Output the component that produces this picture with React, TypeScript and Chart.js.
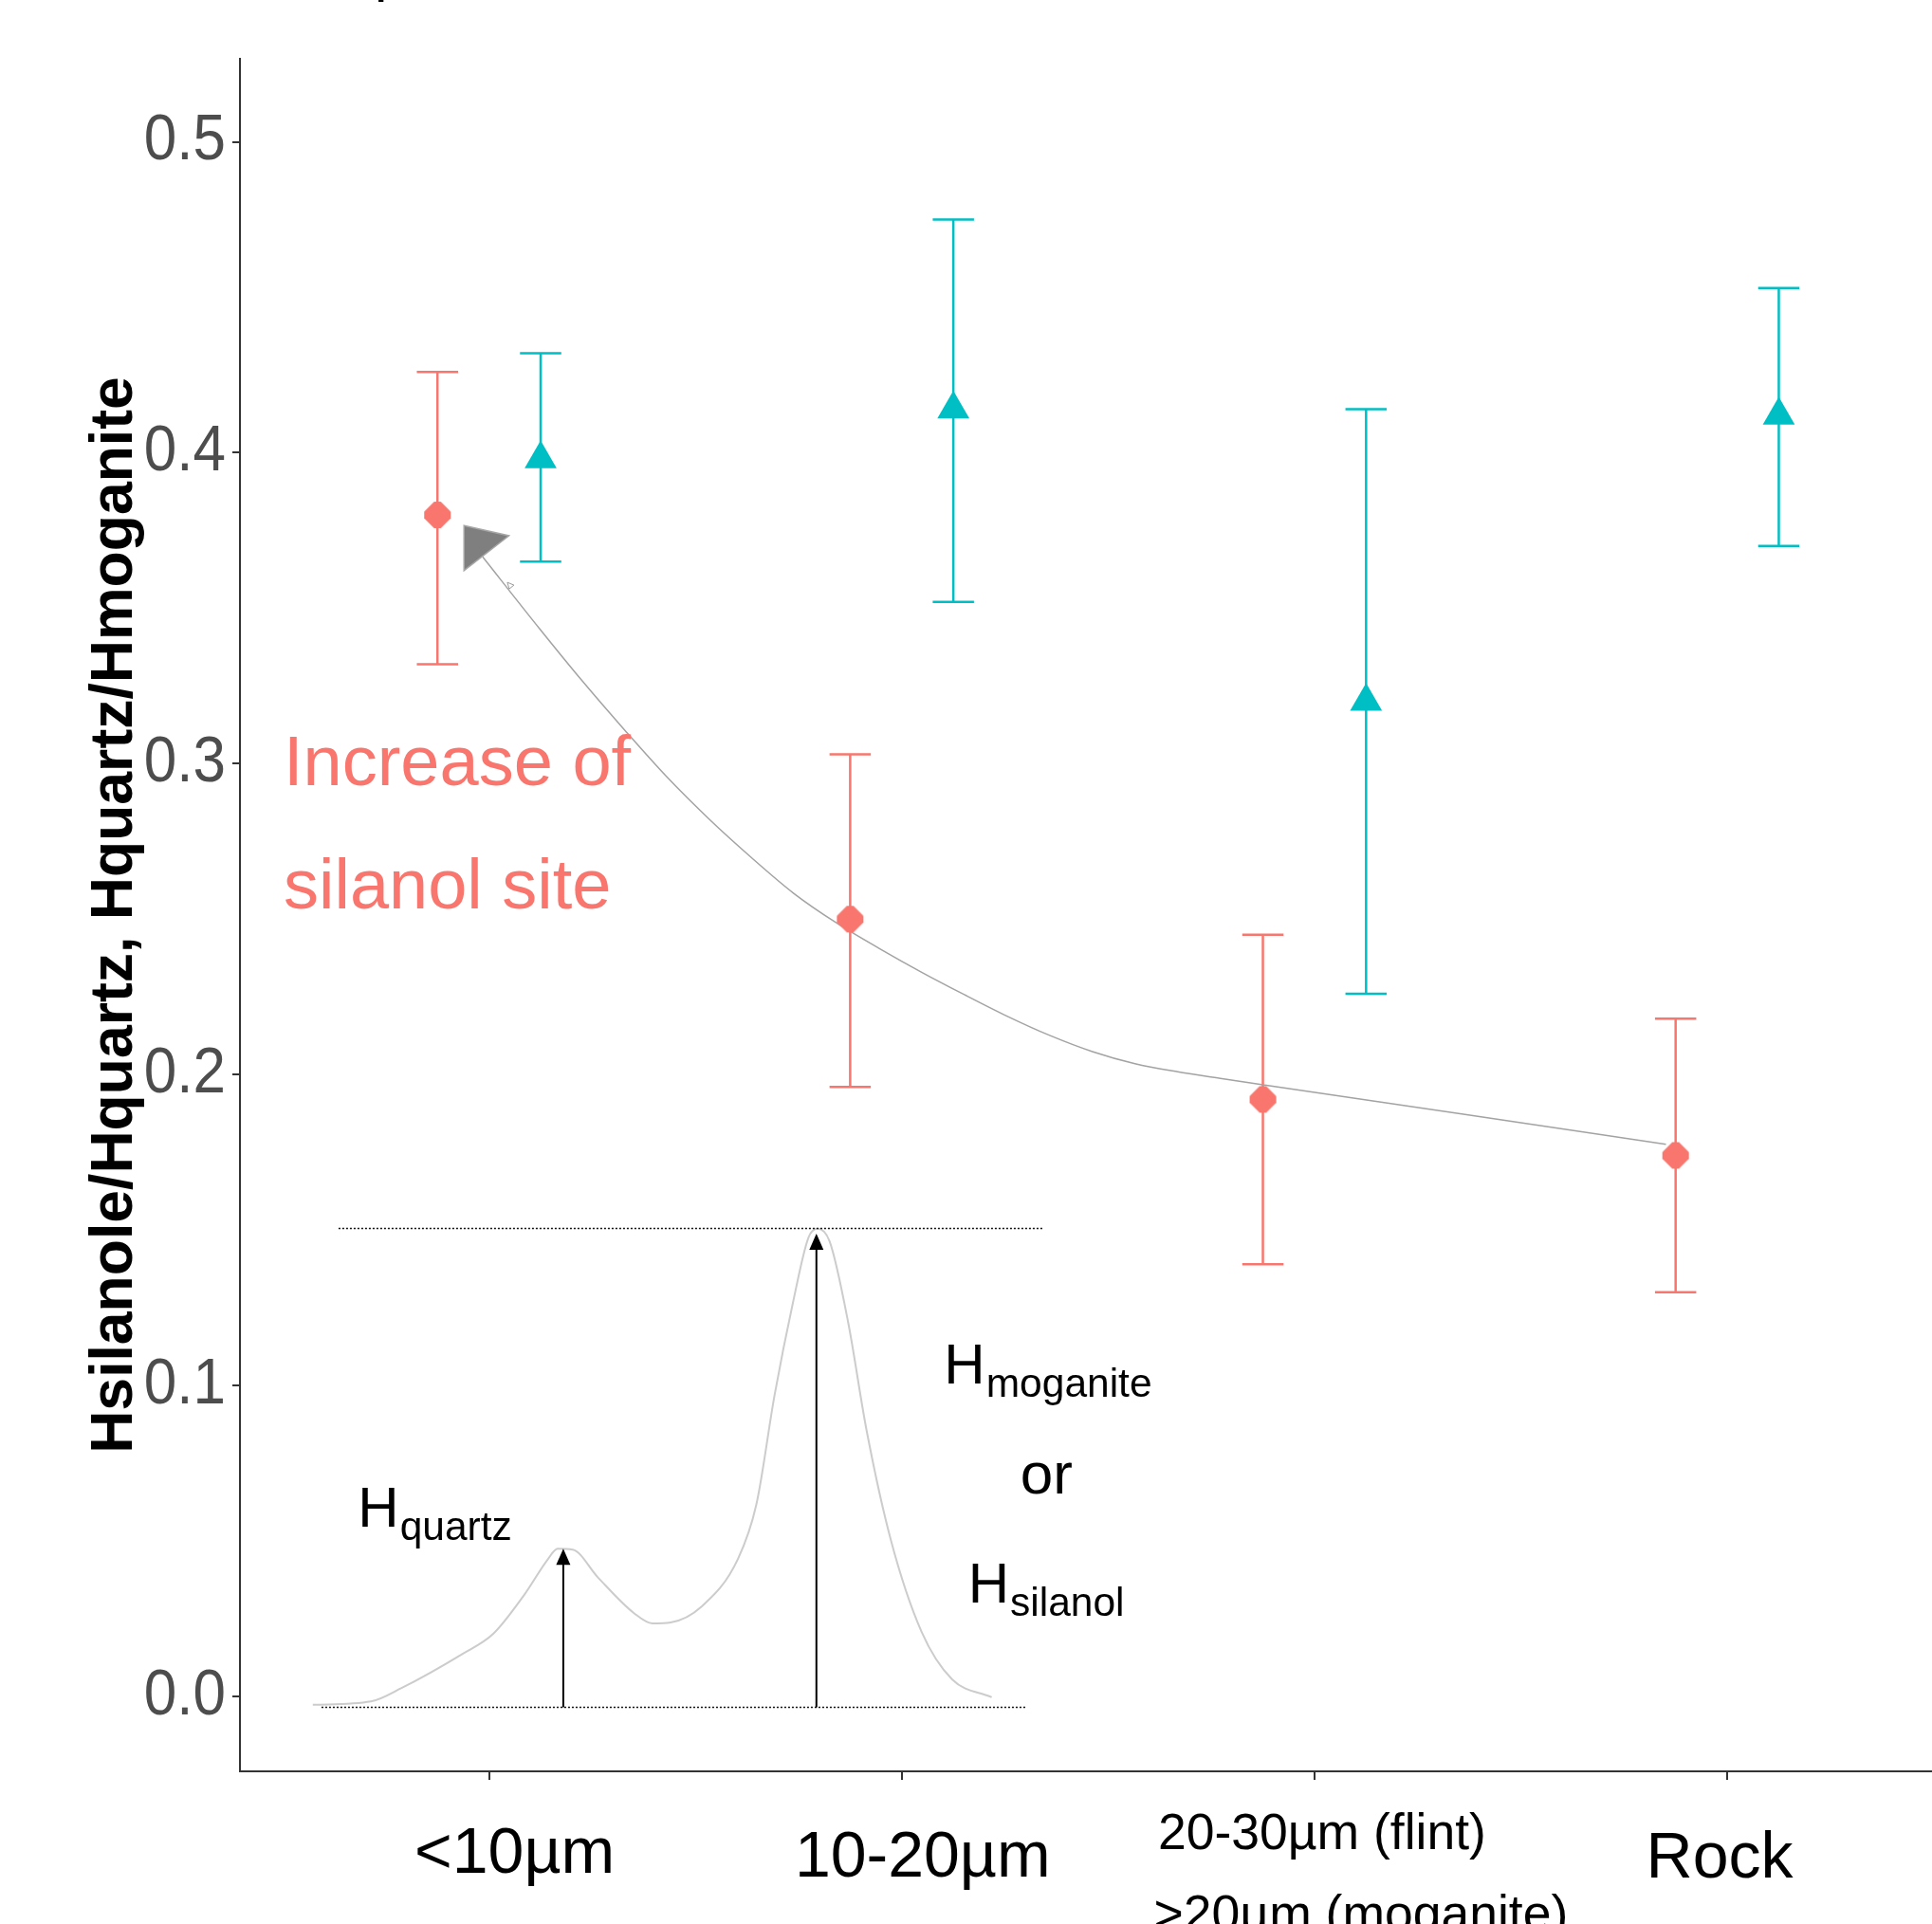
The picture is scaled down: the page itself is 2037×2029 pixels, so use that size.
import React, { useEffect, useRef } from 'react';
import { Chart, registerables } from 'chart.js';

Chart.register(...registerables);

// ---------- data ----------
const categories: string[][] = [
  ['<10µm'],
  ['10-20µm'],
  ['20-30µm (flint)', '>20µm (moganite)'],
  ['Rock'],
];
const categoryPositions = [1, 2, 3, 4];
const yTickValues = [0, 0.1, 0.2, 0.3, 0.4, 0.5];

// Hsilanol/Hquartz (red diamonds)
const silanolMean = [0.380, 0.250, 0.192, 0.174];
const silanolLower = [0.332, 0.196, 0.139, 0.130];
const silanolUpper = [0.426, 0.303, 0.245, 0.218];

// Hquartz/Hmoganite (teal triangles)
const moganiteMean = [0.398, 0.414, 0.320, 0.412];
const moganiteLower = [0.365, 0.352, 0.226, 0.370];
const moganiteUpper = [0.432, 0.475, 0.414, 0.453];

// inset schematic spectrum (axis units)
const spectrumX = [0.573, 0.714, 0.788, 0.936, 1.010, 1.085, 1.143, 1.166, 1.203, 1.263, 1.352, 1.396, 1.440, 1.515, 1.603, 1.648, 1.692, 1.736, 1.774, 1.796, 1.825, 1.870, 1.915, 1.974, 2.048, 2.122, 2.218];
const spectrumY = [-0.0027, -0.0016, 0.0027, 0.0137, 0.0201, 0.0326, 0.0442, 0.0475, 0.0472, 0.0384, 0.0267, 0.0235, 0.0238, 0.0289, 0.0442, 0.0619, 0.0970, 0.1264, 0.1476, 0.1504, 0.1464, 0.1204, 0.0854, 0.0501, 0.0208, 0.0055, -0.0003];

// hand-drawn trend arrow (axis units)
const trendX = [0.9846, 1.1224, 1.2258, 1.3292, 1.4303, 1.5337, 1.6347, 1.7381, 1.8415, 1.9449, 2.0482, 2.1516, 2.2550, 2.3584, 2.4618, 2.5651, 2.6685, 2.7719, 2.8753, 3.3646, 3.8516];
const trendY = [0.3665, 0.3434, 0.3266, 0.3107, 0.2958, 0.2821, 0.2699, 0.2583, 0.2488, 0.2406, 0.2329, 0.2257, 0.2188, 0.2126, 0.2074, 0.2035, 0.2009, 0.1988, 0.1967, 0.1872, 0.1776];

// ---------- style / layout ----------
const SILANOL_COLOR = '#F8766D';
const MOGANITE_COLOR = '#00BFC4';
const AXIS_COLOR = '#333333';
const FONT = '"Liberation Sans", Arial, sans-serif';
const DODGE = 0.125;
const CAP_HALF = 0.05;

const X_MIN = 0.3965;
const X_MAX = 4.4962;
const Y_MIN = -0.0241;
const Y_MAX = 0.5267;

const xLabelLayout = [
  { dx: [27], baselines: [107], size: 68 },
  { dx: [22], baselines: [111], size: 68 },
  { dx: [8, 49], baselines: [82, 168], size: 53.5 },
  { dx: [-8], baselines: [112], size: 68 },
];

// annotation anchor positions (axis units)
const arrowHead = [[0.9394, 0.3766], [1.0482, 0.3733], [0.9394, 0.3621]];
const arrowMark = [1.0512, 0.3571];
const topDotted = { x0: 0.6353, x1: 2.3445, y: 0.1505 };
const bottomDotted = { x0: 0.594, x1: 2.3008, y: -0.0035 };
const heightArrows = [
  { x: 1.1799, y0: -0.0035, y1: 0.0475 },
  { x: 1.7932, y0: -0.0035, y1: 0.1488 },
];
const silanolNote = { x: 0.5022, lines: ['Increase of', 'silanol site'], ys: [0.2930, 0.2533] };
const peakLabels = [
  { x: 0.6823, y: 0.0546, main: 'H', sub: 'quartz' },
  { x: 2.1025, y: 0.1006, main: 'H', sub: 'moganite' },
  { x: 2.1608, y: 0.0302, main: 'H', sub: 'silanol' },
];
const orLabel = { x: 2.287, y: 0.0654, text: 'or' };

function makeOctaDiamond(color: string): HTMLCanvasElement {
  const c = document.createElement('canvas');
  c.width = 32;
  c.height = 32;
  const g = c.getContext('2d')!;
  const m = 14; // half extent
  const f = 3.5; // half width of the flattened tips
  const cx = 16;
  const cy = 16;
  g.fillStyle = color;
  g.beginPath();
  g.moveTo(cx + f, cy - m);
  g.lineTo(cx + m, cy - f);
  g.lineTo(cx + m, cy + f);
  g.lineTo(cx + f, cy + m);
  g.lineTo(cx - f, cy + m);
  g.lineTo(cx - m, cy + f);
  g.lineTo(cx - m, cy - f);
  g.lineTo(cx - f, cy - m);
  g.closePath();
  g.fill();
  return c;
}

function drawErrorBars(ctx: CanvasRenderingContext2D, xs: any, ys: any, lo: number[], hi: number[], offset: number, color: string) {
  ctx.strokeStyle = color;
  ctx.lineWidth = 2.5;
  ctx.setLineDash([]);
  for (let i = 0; i < lo.length; i++) {
    const cx = xs.getPixelForValue(categoryPositions[i] + offset);
    const xl = xs.getPixelForValue(categoryPositions[i] + offset - CAP_HALF);
    const xr = xs.getPixelForValue(categoryPositions[i] + offset + CAP_HALF);
    const yl = ys.getPixelForValue(lo[i]);
    const yh = ys.getPixelForValue(hi[i]);
    ctx.beginPath();
    ctx.moveTo(cx, yl);
    ctx.lineTo(cx, yh);
    ctx.moveTo(xl, yl);
    ctx.lineTo(xr, yl);
    ctx.moveTo(xl, yh);
    ctx.lineTo(xr, yh);
    ctx.stroke();
  }
}

const annotationPlugin = {
  id: 'annotations',
  beforeDatasetsDraw(chart: any) {
    const { ctx, scales } = chart;
    ctx.save();
    drawErrorBars(ctx, scales.x, scales.y, silanolLower, silanolUpper, -DODGE, SILANOL_COLOR);
    drawErrorBars(ctx, scales.x, scales.y, moganiteLower, moganiteUpper, DODGE, MOGANITE_COLOR);
    ctx.restore();
  },
  afterDatasetsDraw(chart: any) {
    const { ctx, scales } = chart;
    const X = (v: number) => scales.x.getPixelForValue(v);
    const Y = (v: number) => scales.y.getPixelForValue(v);
    ctx.save();

    // big gray arrowhead of trend arrow
    ctx.beginPath();
    ctx.moveTo(X(arrowHead[0][0]), Y(arrowHead[0][1]));
    ctx.lineTo(X(arrowHead[1][0]), Y(arrowHead[1][1]));
    ctx.lineTo(X(arrowHead[2][0]), Y(arrowHead[2][1]));
    ctx.closePath();
    ctx.fillStyle = '#7F7F7F';
    ctx.fill();
    ctx.strokeStyle = '#A6A6A6';
    ctx.lineWidth = 1.5;
    ctx.stroke();

    // tiny mark on the trend line
    {
      const mx = X(arrowMark[0]);
      const my = Y(arrowMark[1]);
      ctx.beginPath();
      ctx.moveTo(mx - 3, my - 4);
      ctx.lineTo(mx + 4, my - 1);
      ctx.lineTo(mx - 1, my + 3);
      ctx.closePath();
      ctx.strokeStyle = '#9A9A9A';
      ctx.lineWidth = 1;
      ctx.stroke();
    }

    // dotted reference lines
    ctx.setLineDash([2, 2]);
    ctx.strokeStyle = '#111111';
    ctx.lineWidth = 1.5;
    for (const d of [topDotted, bottomDotted]) {
      ctx.beginPath();
      ctx.moveTo(X(d.x0), Y(d.y));
      ctx.lineTo(X(d.x1), Y(d.y));
      ctx.stroke();
    }
    ctx.setLineDash([]);

    // height arrows
    for (const a of heightArrows) {
      const ax = X(a.x);
      const yb = Y(a.y0);
      const yt = Y(a.y1);
      const headLen = 17;
      const headHalf = 7.5;
      ctx.strokeStyle = '#000';
      ctx.lineWidth = 2;
      ctx.beginPath();
      ctx.moveTo(ax, yb);
      ctx.lineTo(ax, yt + headLen - 2);
      ctx.stroke();
      ctx.fillStyle = '#000';
      ctx.beginPath();
      ctx.moveTo(ax, yt);
      ctx.lineTo(ax - headHalf, yt + headLen);
      ctx.lineTo(ax + headHalf, yt + headLen);
      ctx.closePath();
      ctx.fill();
    }

    // texts
    ctx.textAlign = 'left';
    ctx.textBaseline = 'alphabetic';
    ctx.fillStyle = SILANOL_COLOR;
    ctx.font = `74px ${FONT}`;
    silanolNote.lines.forEach((t, i) => {
      ctx.fillText(t, X(silanolNote.x), Y(silanolNote.ys[i]));
    });

    ctx.fillStyle = '#000';
    for (const p of peakLabels) {
      ctx.font = `60px ${FONT}`;
      const px = X(p.x);
      const py = Y(p.y);
      ctx.fillText(p.main, px, py);
      const w = ctx.measureText(p.main).width;
      ctx.font = `42.5px ${FONT}`;
      ctx.fillText(p.sub, px + w + 1, py + 14);
    }
    ctx.font = `62px ${FONT}`;
    ctx.fillText(orLabel.text, X(orLabel.x), Y(orLabel.y));

    ctx.restore();
  },
  afterDraw(chart: any) {
    const { ctx, scales, chartArea } = chart;
    ctx.save();

    // y tick labels
    ctx.fillStyle = '#4D4D4D';
    ctx.font = `62px ${FONT}`;
    ctx.textAlign = 'right';
    ctx.textBaseline = 'middle';
    const labelRight = chartArea.left - 8 - 7;
    yTickValues.forEach((v) => {
      const py = scales.y.getPixelForValue(v);
      ctx.save();
      ctx.translate(labelRight, py);
      ctx.scale(1.0, 1.1);
      ctx.fillText(v.toFixed(1), 0, 0);
      ctx.restore();
    });

    // x category labels
    ctx.fillStyle = '#000';
    ctx.textAlign = 'center';
    ctx.textBaseline = 'alphabetic';
    categories.forEach((lines, i) => {
      const lay = xLabelLayout[i];
      ctx.font = `${lay.size}px ${FONT}`;
      const cx = scales.x.getPixelForValue(categoryPositions[i]);
      lines.forEach((t, j) => {
        ctx.fillText(t, cx + lay.dx[j], chartArea.bottom + lay.baselines[j]);
      });
    });

    // fragment of cropped text above the figure
    ctx.textAlign = 'left';
    ctx.font = `60px ${FONT}`;
    ctx.fillText('p', 395, -10);
    ctx.restore();
  },
};

export default function App() {
  const ref = useRef<HTMLCanvasElement>(null);

  useEffect(() => {
    document.body.style.margin = '0';
    const canvas = ref.current;
    if (!canvas) return;
    Chart.defaults.font.family = FONT;

    const chart = new Chart(canvas, {
      type: 'line',
      data: {
        datasets: [
          {
            label: 'Hsilanol/Hquartz',
            data: silanolMean.map((v, i) => ({ x: categoryPositions[i] - DODGE, y: v })),
            showLine: false,
            pointStyle: makeOctaDiamond(SILANOL_COLOR),
            pointRadius: 14,
            pointHoverRadius: 14,
            pointBackgroundColor: SILANOL_COLOR,
            pointBorderWidth: 0,
            borderColor: SILANOL_COLOR,
            backgroundColor: SILANOL_COLOR,
          },
          {
            label: 'Hquartz/Hmoganite',
            data: moganiteMean.map((v, i) => ({ x: categoryPositions[i] + DODGE, y: v })),
            showLine: false,
            pointStyle: 'triangle',
            pointRadius: 19.5,
            pointHoverRadius: 19.5,
            pointBackgroundColor: MOGANITE_COLOR,
            pointBorderWidth: 0,
            borderColor: MOGANITE_COLOR,
            backgroundColor: MOGANITE_COLOR,
          },
          {
            label: 'trend',
            data: trendX.map((v, i) => ({ x: v, y: trendY[i] })),
            borderColor: '#A3A3A3',
            borderWidth: 1.5,
            pointRadius: 0,
            cubicInterpolationMode: 'monotone',
            fill: false,
          },
          {
            label: 'spectrum',
            data: spectrumX.map((v, i) => ({ x: v, y: spectrumY[i] })),
            borderColor: '#CCCCCC',
            borderWidth: 2,
            pointRadius: 0,
            cubicInterpolationMode: 'monotone',
            fill: false,
          },
        ],
      },
      options: {
        responsive: false,
        animation: false,
        events: [],
        layout: { autoPadding: false, padding: { top: 62, right: 0, bottom: 0, left: 0 } },
        plugins: {
          legend: { display: false },
          tooltip: { enabled: false },
          title: { display: false },
        },
        scales: {
          x: {
            type: 'linear',
            min: X_MIN,
            max: X_MAX,
            afterBuildTicks: (scale: any) => {
              scale.ticks = categoryPositions.map((v) => ({ value: v }));
            },
            afterFit: (scale: any) => {
              scale.height = 161;
            },
            ticks: { display: false },
            grid: {
              display: true,
              drawOnChartArea: false,
              drawTicks: true,
              tickLength: 9,
              color: AXIS_COLOR,
              lineWidth: 2,
            },
            border: { display: true, color: AXIS_COLOR, width: 2 },
          },
          y: {
            type: 'linear',
            min: Y_MIN,
            max: Y_MAX,
            afterBuildTicks: (scale: any) => {
              scale.ticks = yTickValues.map((v) => ({ value: v }));
            },
            afterFit: (scale: any) => {
              scale.width = 253;
            },
            ticks: { display: false },
            grid: {
              display: true,
              drawOnChartArea: false,
              drawTicks: true,
              tickLength: 8,
              color: AXIS_COLOR,
              lineWidth: 2,
            },
            border: { display: true, color: AXIS_COLOR, width: 2 },
            title: {
              display: true,
              text: 'Hsilanole/Hquartz, Hquartz/Hmoganite',
              color: '#000000',
              font: { size: 62.5, weight: 'bold', family: FONT },
              padding: { top: 84, bottom: 0 },
            },
          },
        },
      } as any,
      plugins: [annotationPlugin],
    });

    return () => chart.destroy();
  }, []);

  return (
    <canvas
      ref={ref}
      width={2037}
      height={2029}
      style={{ display: 'block', width: '2037px', height: '2029px' }}
    />
  );
}
